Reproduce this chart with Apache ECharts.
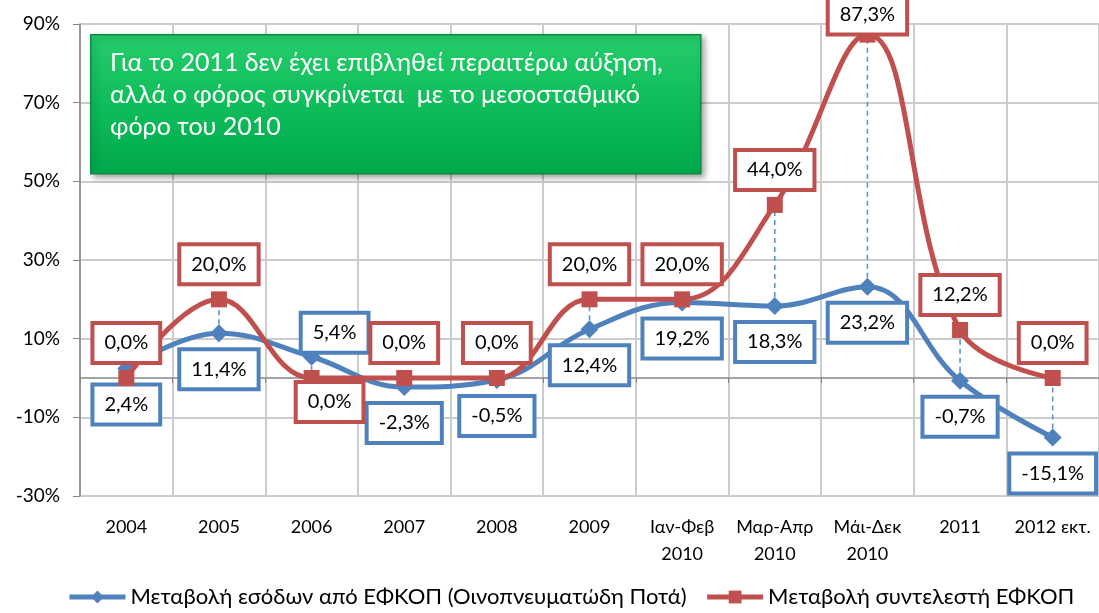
<!DOCTYPE html>
<html>
<head>
<meta charset="utf-8">
<script src="https://cdn.jsdelivr.net/npm/echarts@6/dist/echarts.min.js"></script>
<style>
  html, body { margin: 0; padding: 0; background: #fff; }
  #chart { width: 1099px; height: 613px; }
</style>
</head>
<body>
<div id="chart"></div>
<script>
// Categories (periods)
const categories = ['2004', '2005', '2006', '2007', '2008', '2009',
  'Ιαν-Φεβ\n2010', 'Μαρ-Απρ\n2010', 'Μάι-Δεκ\n2010', '2011', '2012 εκτ.'];

// Change in revenue from excise duty on alcoholic beverages (%)
const revenueChange = [2.4, 11.4, 5.4, -2.3, -0.5, 12.4, 19.2, 18.3, 23.2, -0.7, -15.1];

// Change in excise duty rate (%)
const rateChange = [0.0, 20.0, 0.0, 0.0, 0.0, 20.0, 20.0, 44.0, 87.3, 12.2, 0.0];

const seriesNames = [
  'Μεταβολή εσόδων από ΕΦΚΟΠ (Οινοπνευματώδη Ποτά)',
  'Μεταβολή συντελεστή ΕΦΚΟΠ'
];

const yTicks = { min: -30, max: 90, step: 20 };

const noteLines = [
  'Για το 2011 δεν έχει επιβληθεί περαιτέρω αύξηση,',
  'αλλά ο φόρος συγκρίνεται  με το μεσοσταθμικό',
  'φόρο του 2010'
];

const BLUE = '#4F81BD';
const RED = '#C0504D';
const FONT = 'Lato';

const fmt = v => v.toFixed(1).replace('.', ',') + '%';

// a few labels are nudged aside so they don't collide
const redLabelTweak = { 2: { position: 'bottom', offset: [18, -11] }, 8: { offset: [0, 15] } };
const blueLabelTweak = { 2: { position: 'top', offset: [23, 12] } };

function boxLabel(color, position) {
  return {
    show: true,
    position: position,
    distance: 9,
    formatter: p => fmt(p.value),
    fontFamily: FONT,
    fontSize: 20,
    lineHeight: 22,
    color: '#000',
    backgroundColor: '#fff',
    borderColor: color,
    borderWidth: 4,
    padding: [7, 10]
  };
}

function buildData(values, tweaks) {
  return values.map((v, i) => tweaks[i] ? { value: v, label: tweaks[i] } : v);
}

const chart = echarts.init(document.getElementById('chart'));

chart.setOption({
  animation: false,
  grid: { left: 80, right: -1, top: 24, bottom: 117, containLabel: false },
  legend: {
    bottom: 0,
    left: 62,
    itemWidth: 56,
    itemHeight: 16,
    itemGap: 18,
    lineStyle: { width: 5 },
    textStyle: { fontFamily: FONT, fontSize: 22, color: '#000' },
    data: seriesNames
  },
  xAxis: [
    {
      type: 'category',
      data: categories,
      boundaryGap: true,
      axisLine: { show: false, onZero: false },
      axisTick: { show: false },
      axisLabel: {
        interval: 0, margin: 18, fontFamily: FONT, fontSize: 18,
        lineHeight: 27, color: '#000'
      },
      splitLine: { show: true, interval: 0, lineStyle: { color: '#cccccc', width: 2 } }
    },
    {
      type: 'category',
      data: categories,
      position: 'bottom',
      boundaryGap: true,
      axisLine: { show: true, onZero: true, lineStyle: { color: '#868686', width: 1.5 } },
      axisTick: { show: true, interval: 0, length: 5, lineStyle: { color: '#868686' } },
      axisLabel: { show: false },
      splitLine: { show: false }
    }
  ],
  yAxis: {
    type: 'value',
    min: yTicks.min,
    max: yTicks.max,
    interval: yTicks.step,
    axisLine: { show: true, lineStyle: { color: '#868686', width: 1.5 } },
    axisTick: { show: true, length: 7, lineStyle: { color: '#868686' } },
    axisLabel: {
      formatter: v => v + '%', margin: 20,
      fontFamily: FONT, fontSize: 19, color: '#000'
    },
    splitLine: { show: true, lineStyle: { color: '#cccccc', width: 2 } }
  },
  series: [
    {
      // dashed high-low lines joining the two series at each category
      type: 'custom',
      name: 'hilo',
      xAxisIndex: 0,
      z: 1,
      silent: true,
      data: categories.map((c, i) => [i, revenueChange[i], rateChange[i]]),
      encode: { x: 0, y: [1, 2] },
      renderItem: (params, api) => {
        const a = api.coord([api.value(0), api.value(1)]);
        const b = api.coord([api.value(0), api.value(2)]);
        return {
          type: 'line',
          shape: { x1: a[0], y1: a[1], x2: b[0], y2: b[1] },
          style: { stroke: '#5B93D8', lineWidth: 1.6, lineDash: [5, 4] }
        };
      }
    },
    {
      name: seriesNames[0],
      type: 'line',
      xAxisIndex: 0,
      z: 2,
      smooth: 0.4,
      data: buildData(revenueChange, blueLabelTweak),
      symbol: 'diamond',
      symbolSize: 18,
      showAllSymbol: true,
      itemStyle: { color: BLUE },
      lineStyle: { color: BLUE, width: 5 },
      label: boxLabel(BLUE, 'bottom')
    },
    {
      name: seriesNames[1],
      type: 'line',
      xAxisIndex: 0,
      z: 3,
      smooth: 0.4,
      data: buildData(rateChange, redLabelTweak),
      symbol: 'rect',
      symbolSize: 16,
      showAllSymbol: true,
      itemStyle: { color: RED },
      lineStyle: { color: RED, width: 5 },
      label: boxLabel(RED, 'top')
    }
  ],
  graphic: [
    {
      type: 'rect',
      left: 90,
      top: 34,
      z: 100,
      shape: { x: 0, y: 0, width: 610, height: 139 },
      style: {
        fill: new echarts.graphic.LinearGradient(0, 0, 0, 1, [
          { offset: 0, color: '#26cc6b' },
          { offset: 0.5, color: '#0fbd5a' },
          { offset: 1, color: '#00a94c' }
        ]),
        stroke: '#0a8a40',
        lineWidth: 1.5,
        shadowColor: 'rgba(0,0,0,0.35)',
        shadowBlur: 6,
        shadowOffsetX: 3,
        shadowOffsetY: 3
      }
    },
    {
      type: 'text',
      left: 110,
      top: 47,
      z: 101,
      style: {
        text: noteLines.join('\n'),
        fill: '#fff',
        fontFamily: FONT,
        fontSize: 25,
        lineHeight: 32
      }
    }
  ]
});
</script>
</body>
</html>
